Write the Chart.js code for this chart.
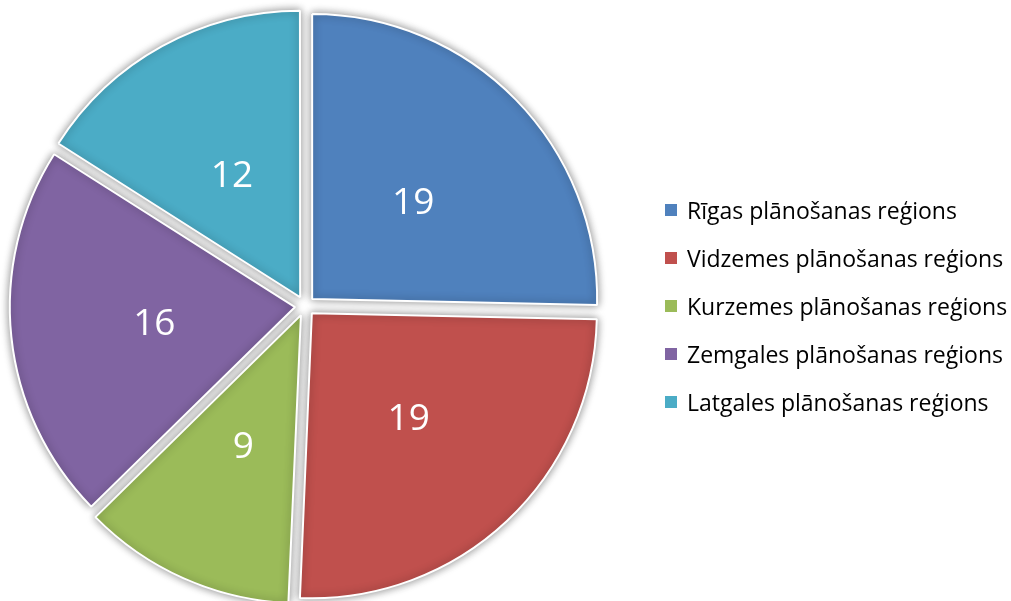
<!DOCTYPE html>
<html>
<head>
<meta charset="utf-8">
<script src="https://cdn.jsdelivr.net/npm/chart.js@4.4.0/dist/chart.umd.min.js"></script>
<style>
  body { margin: 0; background: #fff; }
  #wrap { position: relative; width: 1011px; height: 601px; }
  #chart { position: absolute; left: 0; top: 0; }
  #legend { position: absolute; left: 665px; top: 186px; font-family: "Open Sans", sans-serif; font-size: 23px; color: #000; }
  .item { height: 48px; display: flex; align-items: center; }
  .box { width: 12px; height: 12px; margin-right: 10px; flex: none; }
</style>
</head>
<body>
<div id="wrap">
  <canvas id="chart" width="1011" height="601"></canvas>
  <div id="legend"></div>
</div>
<script>
const labels = [
  "Rīgas plānošanas reģions",
  "Vidzemes plānošanas reģions",
  "Kurzemes plānošanas reģions",
  "Zemgales plānošanas reģions",
  "Latgales plānošanas reģions",
];
const counts = [19, 19, 9, 16, 12];
const colors = ["#4F81BD", "#C0504D", "#9BBB59", "#8064A2", "#4BACC6"];

const ctx = document.getElementById("chart");
const sliceOffset = 40; // chart.js moves the arc by offset/4

//shadow behind slices
const shadowPlugin = {
  id: "shadow",
  beforeDatasetsDraw(chart) {
    chart.ctx.save();
    chart.ctx.shadowColor = "rgba(0,0,0,0.45)";
    chart.ctx.shadowBlur = 9;
  },
  afterDatasetsDraw(chart) {
    chart.ctx.restore();
  },
};

//numbers inside slices
const valueLabels = {
  id: "valueLabels",
  afterDatasetsDraw(chart) {
    const c = chart.ctx;
    const meta = chart.getDatasetMeta(0);
    c.save();
    c.fillStyle = "#fff";
    c.font = '37px "Open Sans", sans-serif';
    c.textAlign = "center";
    c.textBaseline = "middle";
    meta.data.forEach((arc, i) => {
      const mid = (arc.startAngle + arc.endAngle) / 2;
      const dist = arc.outerRadius / 2 + sliceOffset / 4 - 1;
      c.fillText(String(counts[i]), arc.x + Math.cos(mid) * dist, arc.y + Math.sin(mid) * dist + 3);
    });
    c.restore();
  },
};

new Chart(ctx, {
  type: "pie",
  data: {
    labels: labels,
    datasets: [
      {
        data: counts,
        backgroundColor: colors,
        borderColor: "#ffffff",
        borderWidth: 2,
        offset: sliceOffset,
      },
    ],
  },
  options: {
    responsive: false,
    animation: false,
    radius: 285,
    layout: { padding: { left: 0, right: 401, top: 11, bottom: 0 } },
    plugins: {
      legend: { display: false },
      tooltip: { enabled: false },
    },
  },
  plugins: [shadowPlugin, valueLabels],
});

//html legend
const legendDiv = document.getElementById("legend");
labels.forEach((name, i) => {
  const row = document.createElement("div");
  row.className = "item";
  const box = document.createElement("span");
  box.className = "box";
  box.style.background = colors[i];
  const txt = document.createElement("span");
  txt.innerText = name;
  row.appendChild(box);
  row.appendChild(txt);
  legendDiv.appendChild(row);
});
</script>
</body>
</html>
